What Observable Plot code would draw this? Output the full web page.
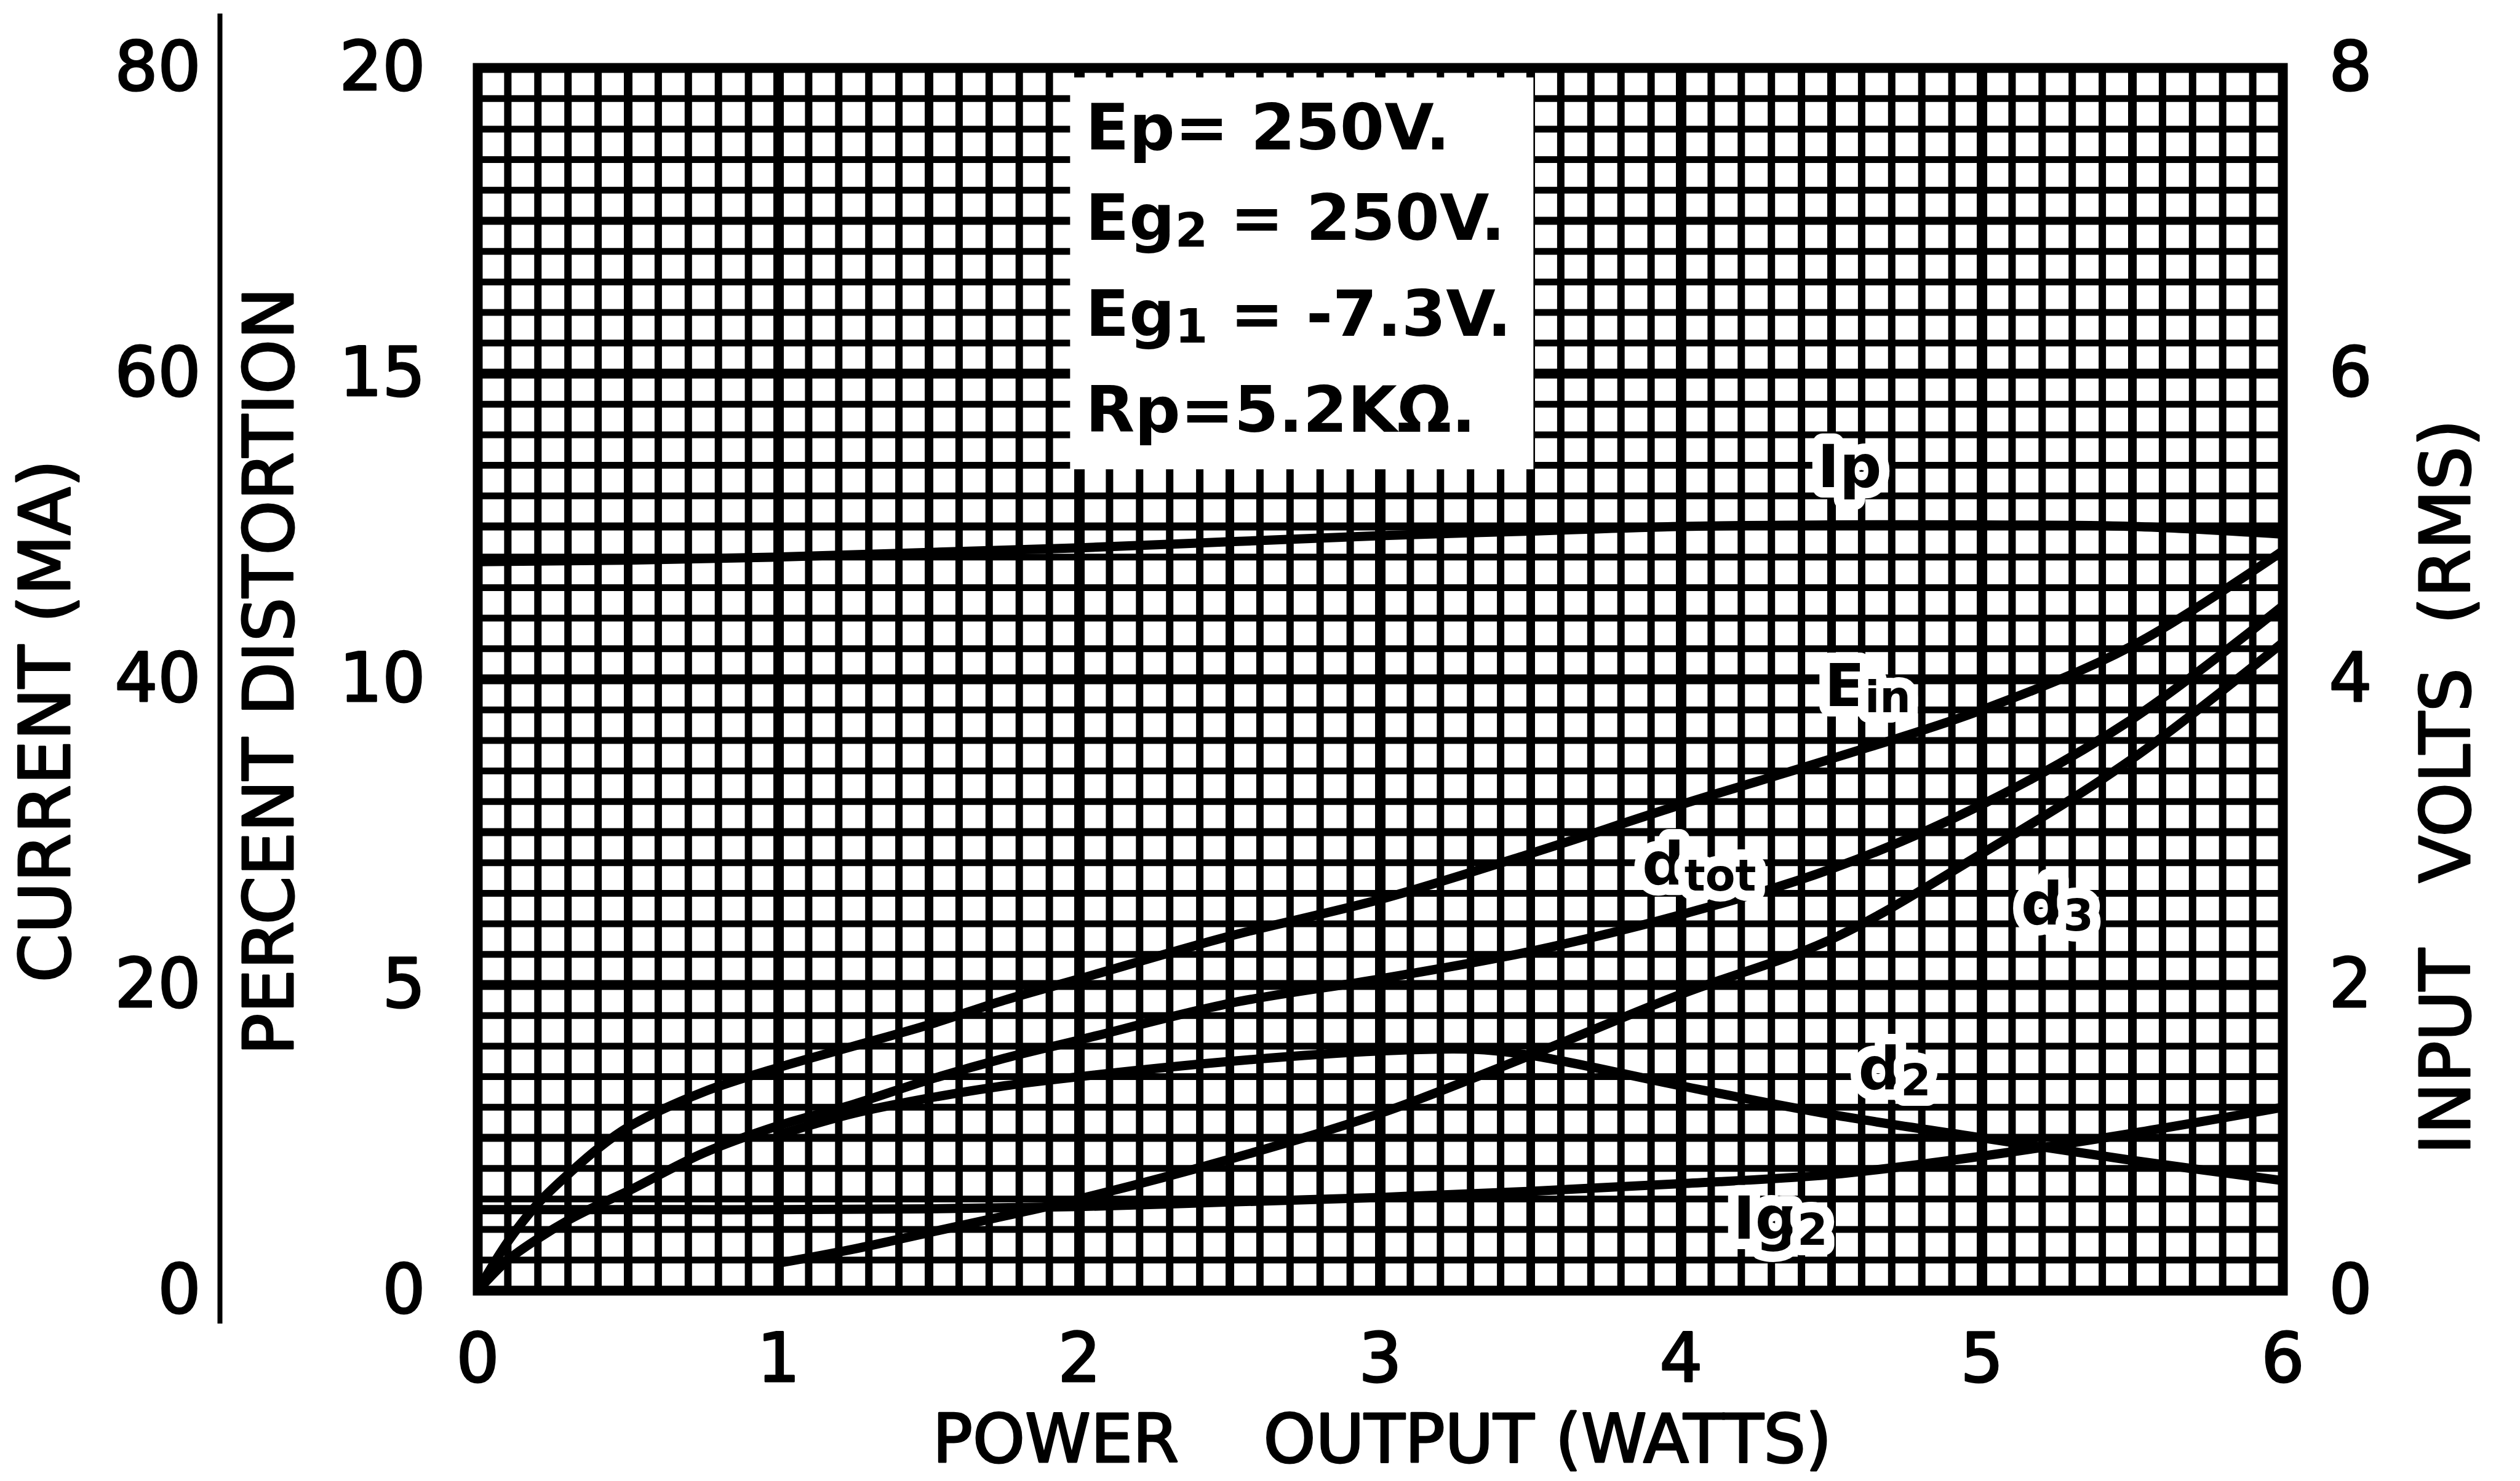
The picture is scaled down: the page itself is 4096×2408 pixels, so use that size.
<!DOCTYPE html>
<html><head><meta charset="utf-8">
<script src="https://cdn.jsdelivr.net/npm/d3@7"></script>
<script src="https://cdn.jsdelivr.net/npm/@observablehq/plot@0.6"></script>
<style>
html,body{margin:0;padding:0;background:#fff;}
#chart svg text{white-space:pre;}
</style></head><body><div id="chart"></div>
<script>
// ---------- data ----------
// power output (W) sample points for curves starting at the origin
const powerA = [0, 0.1, 0.2, 0.3, 0.4, 0.5, 0.75, 1, 1.25, 1.5, 1.75, 2, 2.5, 3, 3.5, 4, 4.5, 5, 5.5, 6];
const einVolts = [0, 0.32, 0.57, 0.76, 0.93, 1.07, 1.30, 1.46, 1.60, 1.74, 1.90, 2.04, 2.32, 2.56, 2.86, 3.18, 3.48, 3.80, 4.22, 4.84];
const dtotPct = [0, 0.5, 0.85, 1.15, 1.4, 1.63, 2.25, 2.7, 3.05, 3.45, 3.8, 4.1, 4.7, 5.1, 5.55, 6.15, 6.9, 7.95, 9.35, 11.2];
// currents
const powerI = [0, 0.5, 1, 1.5, 2, 2.5, 3, 3.5, 4, 4.5, 5, 5.5, 6];
const ipMA  = [47.7, 47.8, 48.0, 48.3, 48.6, 49.0, 49.4, 49.7, 50.0, 50.1, 50.1, 50.0, 49.5];
const ig2MA = [5.3, 5.3, 5.3, 5.35, 5.5, 5.8, 6.1, 6.5, 7.0, 7.6, 8.8, 10.3, 12.0];
// harmonic distortion
const powerD2 = [1, 1.25, 1.5, 1.75, 2, 2.5, 3, 3.3, 3.5, 4, 4.5, 5, 5.5, 6];
const d2Pct   = [2.55, 2.9, 3.15, 3.35, 3.5, 3.75, 3.92, 3.95, 3.85, 3.35, 2.88, 2.5, 2.13, 1.8];
const powerD3 = [1, 1.25, 1.5, 1.75, 2, 2.5, 3, 3.5, 4, 4.5, 5, 5.5, 6];
const d3Pct   = [0.45, 0.68, 0.95, 1.22, 1.5, 2.15, 2.9, 3.85, 4.85, 5.75, 7.15, 8.7, 10.6];

// axis ticks
const powerTicks = [0, 1, 2, 3, 4, 5, 6];
const pctTicks = [0, 5, 10, 15, 20];
const currentTicks = [0, 20, 40, 60, 80];
const voltTicks = [0, 2, 4, 6, 8];

// curve labels (text, power, percent)
const curveLabels = ["Ip", "E_in", "d_tot", "d_3", "d_2", "Ig_2"];
const labelPower = [4.56, 4.62, 4.06, 5.25, 4.71, 4.33];
const labelPct = [13.45, 9.87, 6.95, 6.3, 3.6, 1.16];

// operating conditions note
const noteLines = ["Ep= 250V.", "Eg_2 = 250V.", "Eg_1 = -7.3V.", "Rp=5.2KΩ."];
const notePct = [19.0, 17.52, 15.95, 14.38];
const notePower = 2.02;
const noteBoxPower = [1.97, 3.51];
const noteBoxPct = [13.43, 19.84];

// ---------- build tables ----------
const curves = [
  ...powerI.map((w, i) => ({name: "Ip", w, pct: ipMA[i] / 4})),
  ...powerI.map((w, i) => ({name: "Ig2", w, pct: ig2MA[i] / 4})),
  ...powerA.map((w, i) => ({name: "Ein", w, pct: einVolts[i] * 2.5})),
  ...powerA.map((w, i) => ({name: "dtot", w, pct: dtotPct[i]})),
  ...powerD2.map((w, i) => ({name: "d2", w, pct: d2Pct[i]})),
  ...powerD3.map((w, i) => ({name: "d3", w, pct: d3Pct[i]}))
];
const labels = curveLabels.map((t, i) => ({t, w: labelPower[i], pct: labelPct[i]}));
const notes = noteLines.map((t, i) => ({t, w: notePower, pct: notePct[i]}));
const box = [{x1: noteBoxPower[0], x2: noteBoxPower[1], y1: noteBoxPct[0], y2: noteBoxPct[1]}];

// grid: 0.1 W by 0.5 %
const gx = d3.range(1, 60).map(i => ({i, v: i / 10}));
const gy = d3.range(1, 40).map(i => ({i, v: i / 2}));
const minorX = gx.filter(d => d.i % 5 !== 0).map(d => d.v);
const halfX  = gx.filter(d => d.i % 5 === 0 && d.i % 10 !== 0).map(d => d.v);
const majorX = gx.filter(d => d.i % 10 === 0).map(d => d.v);
const minorY = gy.filter(d => d.i % 5 !== 0).map(d => d.v);
const halfY  = gy.filter(d => d.i % 5 === 0 && d.i % 10 !== 0).map(d => d.v);
const majorY = gy.filter(d => d.i % 10 === 0).map(d => d.v);

const ink = "black";
const tickFont = 110;
const textStroke = 3;

const chart = Plot.plot({
  width: 4096, height: 2408,
  marginLeft: 776, marginRight: 386, marginTop: 110, marginBottom: 310,
  x: {domain: [0, 6], axis: null},
  y: {domain: [0, 20], axis: null},
  style: {fontFamily: "'DejaVu Sans', sans-serif", fontSize: "108px", background: "white", color: ink, overflow: "visible"},
  marks: [
    Plot.ruleY(minorY, {stroke: ink, strokeWidth: 11}),
    Plot.ruleX(minorX, {stroke: ink, strokeWidth: 12}),
    Plot.ruleY(halfY, {stroke: ink, strokeWidth: 13}),
    Plot.ruleX(halfX, {stroke: ink, strokeWidth: 14}),
    Plot.ruleY(majorY, {stroke: ink, strokeWidth: 16}),
    Plot.ruleX(majorX, {stroke: ink, strokeWidth: 17}),
    Plot.rect(box, {x1: "x1", x2: "x2", y1: "y1", y2: "y2", fill: "white"}),
    Plot.line(curves, {x: "w", y: "pct", z: "name", curve: "catmull-rom", stroke: ink, strokeWidth: 15, strokeLinecap: "round"}),
    Plot.text(labels, {x: "w", y: "pct", text: "t", fontSize: 96, fontWeight: "bold", fill: ink, stroke: "white", strokeWidth: 34, strokeLinejoin: "round"}),
    Plot.text(notes, {x: "w", y: "pct", text: "t", textAnchor: "start", fontSize: 104, fontWeight: "bold", fill: ink}),
    Plot.frame({stroke: ink, strokeWidth: 16}),
    // axes
    Plot.text(powerTicks, {x: d => d, frameAnchor: "bottom", lineAnchor: "middle", textAnchor: "middle", dy: 112, text: d => String(d), fontSize: tickFont, fill: ink, stroke: ink, strokeWidth: textStroke}),
    Plot.text(pctTicks, {y: d => d, frameAnchor: "left", lineAnchor: "middle", dx: -85, textAnchor: "end", text: d => String(d), fontSize: tickFont, fill: ink, stroke: ink, strokeWidth: textStroke}),
    Plot.text(currentTicks, {y: d => d / 4, frameAnchor: "left", lineAnchor: "middle", dx: -450, textAnchor: "end", text: d => String(d), fontSize: tickFont, fill: ink, stroke: ink, strokeWidth: textStroke}),
    Plot.text(voltTicks, {y: d => d * 2.5, frameAnchor: "right", lineAnchor: "middle", dx: 75, textAnchor: "start", text: d => String(d), fontSize: tickFont, fill: ink, stroke: ink, strokeWidth: textStroke}),
    Plot.ruleX([0], {x: d => d, dx: -419, insetTop: -88, insetBottom: -54, stroke: ink, strokeWidth: 8}),
    // axis titles
    Plot.text(["CURRENT (MA)"], {text: d => d, frameAnchor: "left", textAnchor: "middle", lineAnchor: "middle", rotate: -90, dx: -700, dy: 68, fontSize: 114, fill: ink, stroke: ink, strokeWidth: textStroke}),
    Plot.text(["PERCENT DISTORTION"], {text: d => d, frameAnchor: "left", textAnchor: "middle", lineAnchor: "middle", rotate: -90, dx: -337, dy: -13, fontSize: 113, fill: ink, stroke: ink, strokeWidth: textStroke}),
    Plot.text(["INPUT   VOLTS  (RMS)"], {text: d => d, frameAnchor: "right", textAnchor: "middle", lineAnchor: "middle", rotate: -90, dx: 268, dy: 175, fontSize: 112, fill: ink, stroke: ink, strokeWidth: textStroke}),
    Plot.text(["POWER    OUTPUT (WATTS)"], {text: d => d, frameAnchor: "bottom", textAnchor: "middle", lineAnchor: "middle", dx: 3, dy: 244, fontSize: 108, fill: ink, stroke: ink, strokeWidth: textStroke})
  ]
});
document.getElementById("chart").append(chart);

// subscripts: "_xx" -> smaller text
chart.querySelectorAll("text").forEach(t => {
  const s = t.textContent;
  if (!s.includes("_")) return;
  const fs = parseFloat(getComputedStyle(t).fontSize) || 100;
  const parts = s.split(/_([^\s=]+)/);
  t.textContent = "";
  const shift = fs * 0.1;
  let down = false;
  parts.forEach((p, i) => {
    if (!p) return;
    const ts = document.createElementNS("http://www.w3.org/2000/svg", "tspan");
    ts.textContent = p;
    if (i % 2 === 1) {
      ts.setAttribute("font-size", fs * 0.74);
      ts.setAttribute("dy", shift);
      down = true;
    } else if (down) {
      ts.setAttribute("font-size", fs);
      ts.setAttribute("dy", -shift);
      down = false;
    }
    t.appendChild(ts);
  });
});
</script></body></html>
